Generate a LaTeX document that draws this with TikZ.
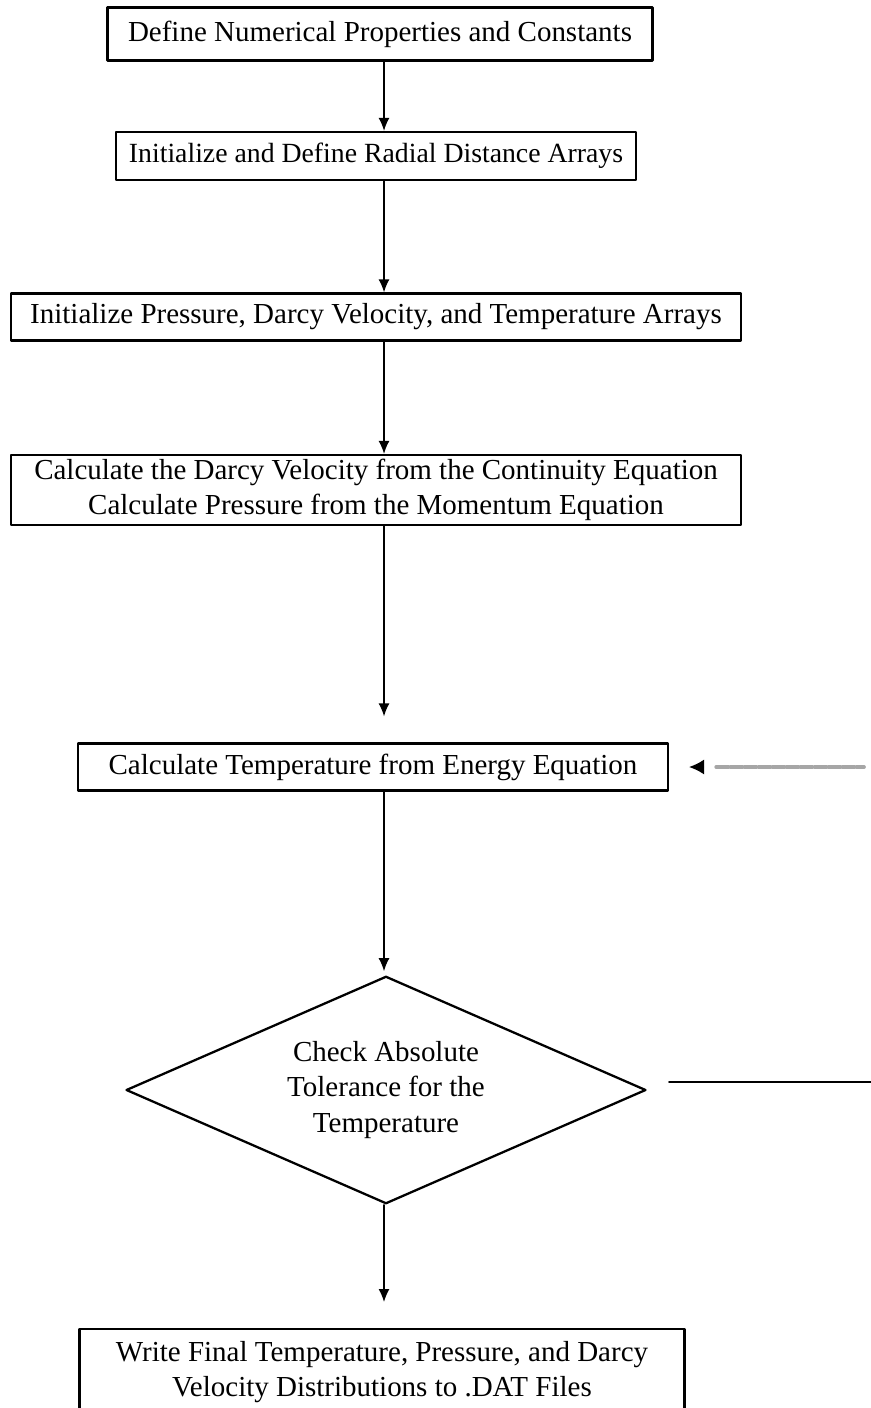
\documentclass[tikz,border=0pt]{standalone}
\usepackage{fontspec}
\setmainfont{Liberation Serif}
\usetikzlibrary{arrows.meta,calc,shapes.geometric}
\tikzset{
  pb/.style={rectangle,draw,line width=1.3pt,inner sep=2pt,align=center,
             font=\fontsize{16.5}{20}\selectfont},
  db/.style={diamond,draw,line width=1.3pt,inner sep=0pt,aspect=2.3,align=center,
             font=\fontsize{16.5}{20}\selectfont},
  fl/.style={-{Latex[length=2.6mm,width=2.2mm]},line width=0.8pt},
  every picture/.style={line cap=round,line join=round}}

\begin{document}
\begin{tikzpicture}[x=0.02cm,y=-0.02cm]
  \useasboundingbox (0,0) rectangle (870,1408);
  \node[pb,minimum width=10.9cm,minimum height=1.06cm] (a) at (380,34){Define Numerical Properties and Constants};
  \node[pb,minimum width=10.4cm,minimum height=0.96cm,font=\fontsize{15.8}{20}\selectfont] (b) at (376,156){Initialize and Define Radial Distance Arrays};
  \node[pb,minimum width=14.6cm,minimum height=0.94cm] (c) at (376,317){Initialize Pressure, Darcy Velocity, and Temperature Arrays};
  \node[pb,minimum width=14.6cm,minimum height=1.40cm] (d) at (376,490){Calculate the Darcy Velocity from the Continuity Equation\\Calculate Pressure from the Momentum Equation};
  \node[pb,minimum width=11.8cm,minimum height=0.94cm] (e) at (373,767){Calculate Temperature from Energy Equation};
  \node[db,minimum width=10.4cm,minimum height=4.55cm] (f) at (386,1090){Check Absolute\\Tolerance for the\\Temperature};
  \node[pb,minimum width=12.1cm,minimum height=1.7cm,anchor=north] (g) at (382,1328){Write Final Temperature, Pressure, and Darcy\\Velocity Distributions to .DAT Files};
  % main flow
  \coordinate (ax) at (384,0);
  \draw[fl] (a.south -| ax) -- (b.north -| ax);
  \draw[fl] (b.south -| ax) -- (c.north -| ax);
  \draw[fl] (c.south -| ax) -- (d.north -| ax);
  \draw[fl] (d.south -| ax) -- ($(e.north -| ax)+(0,-26)$);
  \draw[fl] (e.south -| ax) -- ($(f.north -| ax)+(0,-4)$);
  \draw[fl] (f.south -| ax) -- ($(g.north -| ax)+(0,-26)$);
  % loop back
  \coordinate (fbtip) at ($(e.east)+(20,0)$);
  \coordinate (fbin) at ($(e.east)+(47,0)$);
  \draw[gray!70,line width=2pt,dash pattern=on 7pt off 1pt] (fbin) -- ++(148,0);
  \draw[-{Latex[length=3mm,width=3mm]},line width=0.8pt] ($(fbtip)+(6,0)$) -- (fbtip);
  \coordinate (out) at ($(f.east)+(22,-8)$);
  \draw[line width=1.1pt] (out) -- ++(205,0);
\end{tikzpicture}
\end{document}
